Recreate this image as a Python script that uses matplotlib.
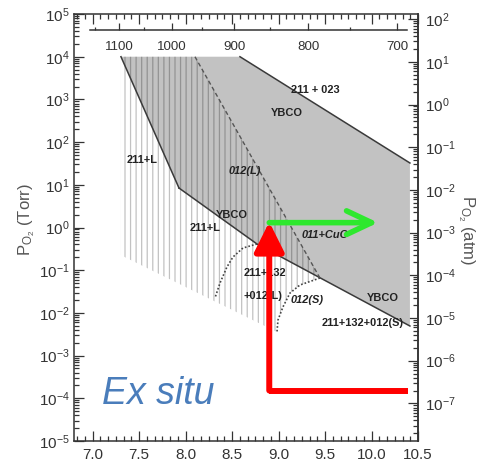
import numpy as np
import matplotlib
matplotlib.use('Agg')
import matplotlib.pyplot as plt
from matplotlib import font_manager
from matplotlib.patches import Polygon
from matplotlib.ticker import (MultipleLocator, FixedLocator, LogLocator,
                               NullFormatter, FormatStrFormatter)

# ---------------- data (x = 10^4/T [1/K], P in Torr) ----------------
gray_x = [7.305, 8.585, 10.413, 10.413, 8.768, 7.929]
gray_p = [1e4, 1e4, 32.4, 0.00493, 0.411, 8.41]

left_x = [7.305, 7.929]
left_p = [1e4, 8.41]
lower_x = [7.929, 8.768, 10.413]
lower_p = [8.41, 0.411, 0.00493]
upper_x = [8.585, 10.413]
upper_p = [1e4, 32.4]

l012_x = [8.101, 9.445]
l012_p = [1e4, 0.0656]

s012_x = [9.445, 9.230, 9.123, 9.047, 8.994, 8.983]
s012_p = [0.0656, 0.045, 0.0292, 0.01374, 0.00682, 0.00357]

c132_x = [8.768, 8.617, 8.510, 8.445, 8.370, 8.316]
c132_p = [0.411, 0.331, 0.204, 0.119, 0.050, 0.0223]

hatch_x = [7.30, 8.101] + s012_x + [7.30]
hatch_p = [1e4, 1e4] + s012_p + [0.227]

labels = ["211 + 023", "YBCO", "211+L", "012(L)", "YBCO", "211+L", "011+CuO",
          "211+132", "+012(L)", "012(S)", "YBCO", "211+132+012(S)"]
label_x = [9.39, 9.09, 7.53, 8.64, 8.50, 8.21, 9.50, 8.85, 8.83, 9.305, 10.12, 9.90]
label_p = [10**3.22, 10**2.68, 10**1.58, 10**1.32, 10**0.29, 10**-0.01, 10**-0.18,
           10**-1.07, 10**-1.60, 10**-1.70, 10**-1.65, 10**-2.24]
label_italic = [False, False, False, True, False, False, True,
                False, False, True, False, False]

red_x = [10.39, 8.90]
red_p = [1.52e-4, 1.52e-4]
red_tip = (8.90, 1.35)
green_start = (8.90, 1.30)
green_tip = (10.07, 1.30)

temp_major = [700, 800, 900, 1000, 1100]
temp_minor = [750, 850, 950, 1050, 1150]

# ---------------- fonts ----------------
names = {f.name for f in font_manager.fontManager.ttflist}
NARROW = 'Liberation Sans Narrow' in names
tick_font = 'Liberation Sans Narrow' if NARROW else 'Liberation Sans'
k = 1.0 if NARROW else 0.88
plt.rcParams['font.family'] = [tick_font, 'DejaVu Sans']
plt.rcParams['mathtext.default'] = 'regular'
plt.rcParams['axes.unicode_minus'] = False
plt.rcParams['hatch.linewidth'] = 0.9

fig = plt.figure(figsize=(4.79, 4.72), dpi=100)
ax = fig.add_axes([0.1545, 0.0657, 0.7182, 0.9046])
ax.set_yscale('log')
ax.set_xlim(6.8, 10.5)
ax.set_ylim(1e-5, 1e5)

ax.add_patch(Polygon(np.column_stack([gray_x, gray_p]), closed=True,
                     facecolor='#c2c2c2', edgecolor='none', zorder=1))
ax.add_patch(Polygon(np.column_stack([hatch_x, hatch_p]), closed=True,
                     facecolor='none', edgecolor=(0, 0, 0, 0.24), lw=0,
                     hatch='|||', zorder=2))

lc = '#3a3a3a'
ax.plot(left_x, left_p, color=lc, lw=1.1, zorder=3)
ax.plot(lower_x, lower_p, color=lc, lw=1.1, zorder=3)
ax.plot(upper_x, upper_p, color=lc, lw=1.1, zorder=3)
ax.plot(l012_x, l012_p, color='#555555', lw=1.0, ls=(0, (3, 2)), zorder=3)
ax.plot(s012_x, s012_p, color='#444444', lw=1.2, ls=(0, (1, 1.2)), zorder=3)
ax.plot(c132_x, c132_p, color='#444444', lw=1.2, ls=(0, (1, 1.2)), zorder=3)

for t, x, p, it in zip(labels, label_x, label_p, label_italic):
    ax.text(x, p, t, ha='center', va='center', fontsize=9 * k,
            fontweight='bold', style='italic' if it else 'normal',
            color='#222222', zorder=4)

# arrows
ax.plot(red_x, red_p, color='red', lw=4.3, solid_capstyle='butt', zorder=5)
ax.annotate('', xy=red_tip, xytext=(red_x[1], red_p[1]),
            arrowprops=dict(arrowstyle='-|>,head_length=1.8,head_width=0.9',
                            mutation_scale=10, color='red', lw=4.3,
                            shrinkA=0, shrinkB=0), zorder=5)
ax.annotate('', xy=green_tip, xytext=green_start,
            arrowprops=dict(arrowstyle='->,head_length=1.8,head_width=0.85',
                            mutation_scale=10, color='#2ee82e', lw=4.0,
                            shrinkA=0, shrinkB=0), zorder=6)

ax.text(0.081, 0.087, 'Ex situ', transform=ax.transAxes, fontsize=27,
        style='italic', color='#4a7dbb', family=['Liberation Sans', 'DejaVu Sans'],
        ha='left', va='baseline', zorder=7)

# ticks
ax.xaxis.set_major_locator(MultipleLocator(0.5))
ax.xaxis.set_minor_locator(MultipleLocator(0.5 / 6))
ax.xaxis.set_major_formatter(FormatStrFormatter('%.1f'))
ax.yaxis.set_major_locator(LogLocator(base=10, numticks=30))
ax.yaxis.set_minor_locator(LogLocator(base=10, subs=np.arange(2, 10), numticks=30))
ax.yaxis.set_minor_formatter(NullFormatter())
ax.tick_params(which='both', direction='in', top=True, right=False,
               color='#333333', width=0.9)
ax.tick_params(which='major', length=7, labelsize=12.5 * k, labelcolor='#333333')
ax.tick_params(which='minor', length=3.5)
ax.tick_params(axis='x', which='major', pad=5)
ax.tick_params(axis='y', which='major', pad=3)
for s in ax.spines.values():
    s.set_color('#333333')
    s.set_linewidth(1.1)

secy = ax.secondary_yaxis('right', functions=(lambda p: p / 760.0, lambda p: p * 760.0))
secy.yaxis.set_major_locator(LogLocator(base=10, numticks=30))
secy.yaxis.set_minor_locator(LogLocator(base=10, subs=np.arange(2, 10), numticks=30))
secy.yaxis.set_minor_formatter(NullFormatter())
secy.tick_params(which='both', direction='in', color='#333333', width=0.9)
secy.tick_params(which='major', length=7, labelsize=12.5 * k, labelcolor='#333333', pad=5)
secy.tick_params(which='minor', length=3.5)
secy.spines['right'].set_color('#333333')
secy.spines['right'].set_linewidth(1.1)


def inv_to_c(x):
    x = np.asarray(x, dtype=float)
    with np.errstate(divide='ignore', invalid='ignore'):
        return 1e4 / x - 273.15


def c_to_inv(t):
    t = np.asarray(t, dtype=float)
    with np.errstate(divide='ignore', invalid='ignore'):
        return 1e4 / (t + 273.15)


sect = ax.secondary_xaxis(0.9625, functions=(inv_to_c, c_to_inv))
sect.xaxis.set_major_locator(FixedLocator(temp_major))
sect.xaxis.set_minor_locator(FixedLocator(temp_minor))
sect.xaxis.set_major_formatter(FormatStrFormatter('%d'))
sect.tick_params(which='both', top=True, bottom=False, labeltop=False,
                 labelbottom=True, direction='out', color='#333333', width=0.9)
sect.tick_params(which='major', length=5, pad=3, labelsize=11 * k, labelcolor='#333333')
sect.tick_params(which='minor', length=2.5)
sect.spines['bottom'].set_visible(False)
sect.spines['top'].set_bounds(690, 1161)
sect.spines['top'].set_color('#333333')
sect.spines['top'].set_linewidth(1.1)

lab_font = ['Liberation Sans', 'DejaVu Sans']
ax.set_ylabel(r'P$_{O_2}$ (Torr)', fontsize=12, color='#555555', family=lab_font)
ax.yaxis.label.set_va('center')
ax.yaxis.set_label_coords(-0.137, 0.518, transform=ax.transAxes)
secy.set_ylabel(r'P$_{O_2}$ (atm)', fontsize=12, color='#555555', family=lab_font,
                rotation=270)
secy.yaxis.label.set_va('center')
secy.yaxis.set_label_coords(1.14, 0.494, transform=ax.transAxes)

fig.savefig('out.png', dpi=100)
